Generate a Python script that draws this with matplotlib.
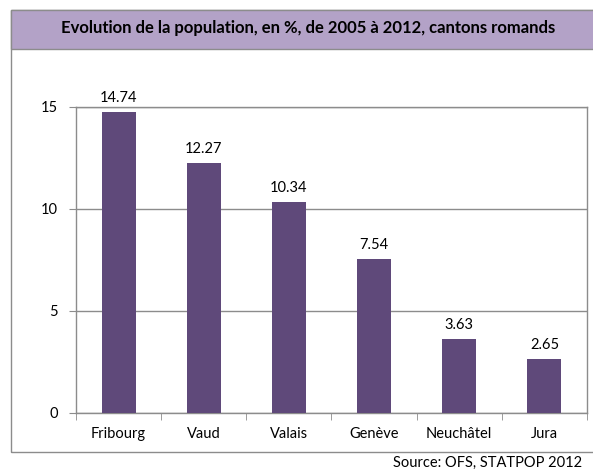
import matplotlib
matplotlib.use("Agg")
import matplotlib.pyplot as plt
from matplotlib.patches import Rectangle

plt.rcParams['font.family'] = ['Lato', 'DejaVu Sans']

# donnees
cantons = ["Fribourg", "Vaud", "Valais", "Genève", "Neuchâtel", "Jura"]
evolution = [14.74, 12.27, 10.34, 7.54, 3.63, 2.65]
yticks = [0, 5, 10, 15]

titre = "Evolution de la population, en %, de 2005 à 2012, cantons romands"
source = "Source: OFS, STATPOP 2012"

W, H = 593, 470
fig = plt.figure(figsize=(W / 100, H / 100), dpi=100)

# cadre exterieur + bandeau du titre
fig.patches.append(Rectangle((11 / W, 1 - 452 / H), (W - 11) / W + 0.01, (452 - 10) / H,
                             transform=fig.transFigure, fill=False,
                             edgecolor="#8c8c8c", linewidth=1.0))
fig.patches.append(Rectangle((11 / W, 1 - 49 / H), (W - 11) / W + 0.01, 39 / H,
                             transform=fig.transFigure, facecolor="#b3a2c7",
                             edgecolor="#8c8c8c", linewidth=1.0))
fig.text(308.5 / W, 1 - 28.5 / H, titre, ha="center", va="center",
         fontsize=12, fontweight="bold", color="black")
fig.text(582 / W, 1 - 463 / H, source, ha="right", va="center", fontsize=10.5)

ax = fig.add_axes([76 / W, 1 - 413 / H, (587 - 76) / W, (413 - 107) / H])
x = list(range(len(cantons)))
bars = ax.bar(x, evolution, width=0.4, color="#5f497a", zorder=3)
for xi, v in zip(x, evolution):
    ax.text(xi, v + 0.35, f"{v:.2f}", ha="center", va="bottom", fontsize=10.5)

ax.set_xlim(-0.5, len(cantons) - 0.5)
ax.set_ylim(0, 15)
ax.set_yticks(yticks)
ax.set_yticklabels([str(t) for t in yticks], fontsize=10.5)
ax.yaxis.grid(True, color="#8c8c8c", linewidth=1.0, zorder=0)

ax.set_xticks(x)
ax.set_xticklabels(cantons, fontsize=10.5)
ax.tick_params(axis="x", length=0, pad=10)
ax.set_xticks([i - 0.5 for i in range(len(cantons) + 1)], minor=True)
ax.tick_params(axis="x", which="minor", length=5, direction="out", color="#8c8c8c")
ax.tick_params(axis="y", length=5, direction="out", color="#8c8c8c", pad=8)

for s in ax.spines.values():
    s.set_color("#8c8c8c")
    s.set_linewidth(1.0)

fig.savefig("out.png", dpi=100)
